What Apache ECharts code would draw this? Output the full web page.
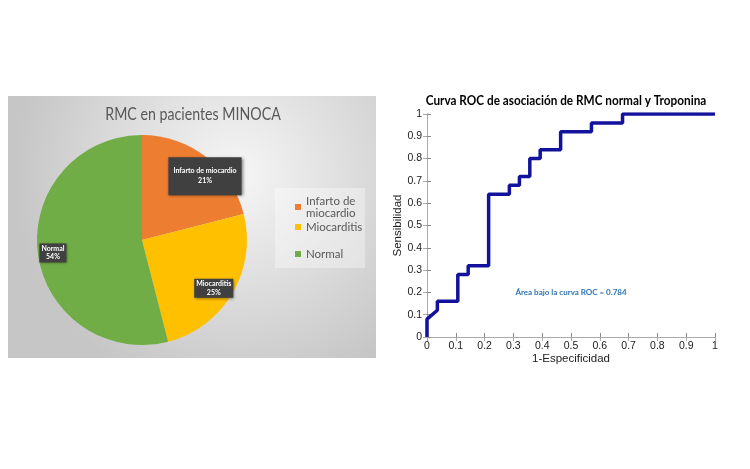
<!DOCTYPE html>
<html>
<head>
<meta charset="utf-8">
<script src="https://cdn.jsdelivr.net/npm/echarts@6/dist/echarts.min.js"></script>
<style>html,body{margin:0;padding:0;background:#fff;}#c{width:750px;height:469px;}</style>
</head>
<body>
<div id="c"></div>
<script>
// ---- Pie data ----
var pieCategories = ['Infarto de miocardio', 'Miocarditis', 'Normal'];
var pieValues = [21, 25, 54];
var pieColors = ['#ED7D31', '#FFC000', '#70AD47'];
var pieTitle = 'RMC en pacientes MINOCA';

// ---- ROC data ----
var rocTitle = 'Curva ROC de asociación de RMC normal y Troponina';
var rocFPR = [0, 0, 0.036, 0.036, 0.107, 0.107, 0.143, 0.143, 0.214, 0.214, 0.286, 0.286, 0.321, 0.321, 0.357, 0.357, 0.393, 0.393, 0.464, 0.464, 0.571, 0.571, 0.679, 0.679, 1];
var rocTPR = [0, 0.08, 0.12, 0.16, 0.16, 0.28, 0.28, 0.32, 0.32, 0.64, 0.64, 0.68, 0.68, 0.72, 0.72, 0.80, 0.80, 0.84, 0.84, 0.92, 0.92, 0.96, 0.96, 1, 1];
var aucText = 'Área bajo la curva ROC = 0.784';
var aucPos = [0.5, 0.2];

var rocData = rocFPR.map(function (x, i) { return [x, rocTPR[i]]; });

var labelStyles = [
  { fontSize: 7, lineHeight: 10, padding: [9, 5] },
  { fontSize: 7, lineHeight: 8.5, padding: [1, 2] },
  { fontSize: 7, lineHeight: 8.5, padding: [1, 2] }
];
var labelShift = [[29, -20], [24, 20], [-34, 6]];

var pieData = pieCategories.map(function (n, i) {
  return {
    name: n, value: pieValues[i],
    itemStyle: { color: pieColors[i] },
    label: labelStyles[i]
  };
});

var chart = echarts.init(document.getElementById('c'));
var grayTxt = '#595959';
var legendItemBase = {
  orient: 'vertical', left: 290, itemWidth: 6, itemHeight: 6, icon: 'rect',
  textStyle: { color: grayTxt, fontSize: 11.5, fontFamily: 'Lato', lineHeight: 12 },
  formatter: function (n) { return n === 'Infarto de miocardio' ? 'Infarto de\nmiocardio' : n; }
};

chart.setOption({
  backgroundColor: '#ffffff',
  animation: false,
  graphic: [
    {
      type: 'rect', z: -10,
      shape: { x: 8, y: 96, width: 368, height: 262 },
      style: {
        fill: {
          type: 'radial', x: 0.62, y: 0.3, r: 0.85,
          colorStops: [{ offset: 0, color: '#f6f6f6' }, { offset: 1, color: '#c6c6c6' }]
        }
      }
    },
    {
      type: 'rect', z: -5,
      shape: { x: 275, y: 188, width: 90, height: 80 },
      style: { fill: 'rgba(255,255,255,0.35)' }
    },
    {
      type: 'text', x: 193, y: 115, scaleX: 0.86, originX: 0, originY: 0,
      style: {
        text: pieTitle, x: 0, y: 0, align: 'center', verticalAlign: 'middle',
        fill: grayTxt, fontSize: 16.5, fontFamily: 'Lato'
      }
    },
    {
      type: 'text', x: 566, y: 100, scaleX: 0.84,
      style: {
        text: rocTitle, x: 0, y: 0, align: 'center', verticalAlign: 'middle',
        fill: '#000', fontSize: 14, fontWeight: 'bold', fontFamily: 'Lato'
      }
    }
  ],
  legend: [
    Object.assign({ data: [pieCategories[0]], top: 190 }, legendItemBase),
    Object.assign({ data: [pieCategories[1]], top: 216 }, legendItemBase),
    Object.assign({ data: [pieCategories[2]], top: 243 }, legendItemBase)
  ],
  grid: { left: 427, right: 35, top: 114, bottom: 132 },
  xAxis: [
    {
      type: 'value', min: 0, max: 1, interval: 0.1,
      name: '1-Especificidad', nameLocation: 'middle', nameGap: 16,
      nameTextStyle: { color: '#222', fontSize: 11.5, fontFamily: 'Liberation Sans' },
      axisLine: { lineStyle: { color: '#888', width: 1 } },
      axisTick: { inside: true, length: 4, lineStyle: { color: '#888' } },
      axisLabel: { color: '#222', fontSize: 10.5, fontFamily: 'Liberation Sans', margin: 4 },
      splitLine: { show: false }
    },
    {
      type: 'value', min: 0, max: 1, interval: 0.1, position: 'top',
      axisLine: { show: true, lineStyle: { color: '#aaa' } },
      axisTick: { inside: true, length: 4, lineStyle: { color: '#aaa' } },
      axisLabel: { show: false }, splitLine: { show: false }
    }
  ],
  yAxis: [
    {
      type: 'value', min: 0, max: 1, interval: 0.1,
      name: 'Sensibilidad', nameLocation: 'middle', nameGap: 19, nameRotate: 90,
      nameTextStyle: { color: '#222', fontSize: 11.5, fontFamily: 'Liberation Sans' },
      axisLine: { show: true, lineStyle: { color: '#888', width: 1 } },
      axisTick: { show: true, inside: true, length: 4, lineStyle: { color: '#888' } },
      axisLabel: { color: '#222', fontSize: 10.5, fontFamily: 'Liberation Sans', margin: 5 },
      splitLine: { show: false }
    },
    {
      type: 'value', min: 0, max: 1, interval: 0.1, position: 'right',
      axisLine: { show: true, lineStyle: { color: '#aaa' } },
      axisTick: { show: true, inside: true, length: 4, lineStyle: { color: '#aaa' } },
      axisLabel: { show: false }, splitLine: { show: false }
    }
  ],
  series: [
    {
      type: 'pie', center: [142, 240], radius: 105, startAngle: 90, clockwise: true,
      data: pieData,
      itemStyle: { borderWidth: 0 },
      label: {
        show: true, position: 'inside',
        formatter: function (p) { return p.name + '\n' + Math.round(p.percent) + '%'; },
        color: '#fff', fontWeight: 'bold', fontFamily: 'Lato',
        backgroundColor: '#404040',
        shadowBlur: 3, shadowColor: 'rgba(0,0,0,0.5)', shadowOffsetX: 1, shadowOffsetY: 1
      },
      labelLine: { show: false },
      labelLayout: function (params) {
        var s = labelShift[params.dataIndex];
        return { dx: s[0], dy: s[1] };
      },
      emphasis: { disabled: true }
    },
    {
      type: 'line', xAxisIndex: 0, yAxisIndex: 0,
      data: rocData, showSymbol: false, symbol: 'none',
      lineStyle: { color: '#12129c', width: 3.5 },
      markPoint: {
        symbol: 'circle', symbolSize: 0,
        data: [{ coord: aucPos, value: aucText }],
        label: {
          show: true, position: 'inside', formatter: aucText,
          color: '#2E75B6', fontSize: 8, fontWeight: 'bold', fontFamily: 'Lato'
        }
      }
    }
  ]
});
</script>
</body>
</html>
